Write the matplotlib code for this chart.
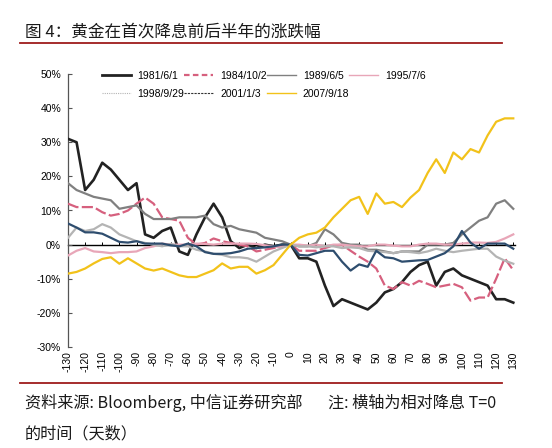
import numpy as np
import matplotlib
matplotlib.use('Agg')
import matplotlib.pyplot as plt
from matplotlib.lines import Line2D

plt.rcParams['font.family'] = ['Liberation Sans', 'Noto Sans CJK SC', 'DejaVu Sans']

# days relative to the first rate cut (T=0)
days = np.arange(-130, 131, 5)

s1981 = [31, 30, 16, 19, 24, 22, 19, 16, 18, 3, 2, 4, 5, -2, -3, 3, 8, 12, 8, 1,
         -1, 0, -1, 0, -0.5, 0, 0, -4, -4, -5, -12, -18, -16, -17, -18, -19, -17, -14,
         -13, -11, -8, -6, -5, -12, -8, -7, -9, -10, -11, -12, -16, -16, -17]
s1984 = [12, 11, 11, 11, 9.5, 8.5, 9, 10, 12, 13.8, 12, 8, 7.5, 7, 2, 0, 0.5, 1.8, 1, 0.5,
         0, -0.5, -2, -1.5, -1, -0.5, 0, -1.8, -1.8, -1.8, -1, -0.3, 0, -1.8, -3.5, -5, -7,
         -12, -13, -11, -12, -10.6, -11.5, -12.5, -12, -11.5, -12.5, -16.4, -15.5, -15.5,
         -10, -4, -7.5]
s1989 = [18, 16, 15, 14, 13.5, 13, 10.5, 11, 11.5, 9, 7.5, 7.5, 7.5, 8, 8, 8, 8.5, 6, 5, 5.5,
         4.5, 4, 3.5, 2, 1.5, 1, 0, -0.5, -0.5, 0.5, 4.5, 3, 0.5, 0, 0, -1.5, -1.5, -2, -2.5,
         -2, -2, -2, 0, 0, 0, 0.5, 3, 5, 7, 8, 12, 13, 10.5]
s1995 = [-3.2, -1.8, -1, -2, -2.2, -2.5, -2.2, -2.2, -2, -1, -0.5, 0.3, 0, 0, 0, 0.3, 0.2, 0,
         0.3, 0.3, 0.3, 0.3, 0.2, -0.2, -0.5, -0.8, 0, 0, -0.3, 0, -0.5, 0, 0, -0.3, -0.5, -0.5,
         0, 0, -0.3, -0.5, -0.5, 0, 0.3, 0.3, 0, 0, 0.3, 0.6, 0.6, 0.5, 0.8, 1.8, 3]
s1998 = [2, 5, 4, 4.5, 6, 5, 3, 2, 1, 0.5, 0, -0.5, 0.2, -0.5, -0.5, -1.5, -2, -2.7, -3, -3.7,
         -3.7, -4, -5, -3.5, -2, -1, 0, -0.5, -0.5, -0.8, -0.5, -0.5, -1, -0.8, -1, -1.8, -2,
         -2.2, -2.5, -2, -2.2, -2.5, -2, -1.2, -1.8, -2.2, -1.8, -1.5, -1.2, -1.2, -3.5, -4.7, -5.6]
s2001 = [6.2, 5, 3.6, 3.6, 3.2, 2, 0.8, 0.6, 1, 0.3, 0.3, 0.3, -0.2, -0.5, 0.3, -0.5, -2.2,
         -2.7, -2.7, -2.5, -2, -1.2, -1, -0.8, -0.5, 0, 0, -3, -3.2, -2.5, -1.8, -1.8, -5, -7.6,
         -5.8, -6.5, -1.8, -3.7, -4, -5, -4.8, -4.6, -4.5, -3.5, -2.5, -0.5, 4, 0.6, -1.2, 0.3,
         0.3, 0.3, -1.2]
s2007 = [-8.5, -8, -7, -5.5, -4.2, -3.7, -5.6, -4, -5.5, -7, -7.6, -7, -8, -9, -9.5, -9.5,
         -8.5, -7.5, -5.5, -7, -6.5, -6.5, -8.5, -7.5, -6, -3, 0, 2, 3, 3.5, 5, 8, 10.5, 13, 14,
         9, 15, 12, 12.5, 11, 13.8, 16, 21, 25, 21, 27, 25, 28, 27, 32, 36, 37, 37]

labels = ['1981/6/1', '1984/10/2', '1989/6/5', '1995/7/6', '1998/9/29', '2001/1/3', '2007/9/18']
series = [s1981, s1984, s1989, s1995, s1998, s2001, s2007]
colors = ['#222222', '#d6607e', '#808080', '#e8a6b8', '#b4b4b4', '#2e4d6e', '#f2c21a']
plot_styles = ['-', (0, (5, 1.5)), '-', '-', '-', '-', '-']
legend_styles = ['-', (0, (2.5, 1.5)), '-', '-', (0, (1, 1)), (0, (2, 1)), '-']
legend_colors = ['#222222', '#d6607e', '#808080', '#e8a6b8', '#b4b4b4', '#333333', '#f2c21a']
legend_widths = [2.0, 1.6, 1.0, 1.0, 0.8, 0.8, 1.0]

fig = plt.figure(figsize=(5.52, 4.48), dpi=100)
ax = fig.add_axes([68 / 552, 1 - 347 / 448, (515 - 68) / 552, (347 - 74) / 448])

order = [6, 3, 4, 1, 2, 5, 0]
for i in order:
    ax.plot(days, series[i], color=colors[i], linestyle=plot_styles[i],
            linewidth=1.9 if i == 0 else 1.6, zorder=3 + i * 0.1)

ax.set_xlim(-130, 131)
ax.set_ylim(-30, 50)
ax.set_yticks(np.arange(-30, 51, 10))
ax.set_yticklabels([f'{v}%' for v in range(-30, 51, 10)], fontsize=7.5)
ax.set_xticks(np.arange(-130, 131, 10))
ax.set_xticklabels([str(v) for v in range(-130, 131, 10)], rotation=90, fontsize=7.5)
ax.tick_params(axis='x', length=0, pad=3)
ax.tick_params(axis='y', direction='in', length=3, width=0.8, color='#555555', pad=5)
for side in ['top', 'right', 'bottom']:
    ax.spines[side].set_visible(False)
ax.spines['left'].set_color('#555555')
ax.spines['left'].set_linewidth(0.9)

# zero axis with ticks, as in the source chart
zero_ax = ax.secondary_xaxis(30 / 80)
zero_ax.set_xticks(np.arange(-130, 131, 10))
zero_ax.tick_params(axis='x', direction='in', length=2.5, width=0.7, labelbottom=False,
                    labeltop=False)
zero_ax.spines['bottom'].set_color('black')
zero_ax.spines['bottom'].set_linewidth(1.0)

# row-wise legend order (matplotlib fills columns first)
leg_order = [0, 4, 1, 5, 2, 6, 3]
handles = [Line2D([], [], color=legend_colors[i], linestyle=legend_styles[i],
                  linewidth=legend_widths[i]) for i in leg_order]
ax.legend(handles, [labels[i] for i in leg_order], ncol=4, loc='upper left',
          bbox_to_anchor=(0.054, 1.045), frameon=False, fontsize=7.5, handlelength=2.8,
          handletextpad=0.65, columnspacing=0.0, labelspacing=0.75)

cjk = ['Noto Sans CJK SC', 'DejaVu Sans']
fig.text(25 / 552, 1 - 32 / 448, '图 4：黄金在首次降息前后半年的涨跌幅', fontsize=12,
         family=cjk, va='center', ha='left', color='#1a1a1a')
fig.add_artist(Line2D([20 / 552, 502 / 552], [1 - 43 / 448, 1 - 43 / 448],
                      color='#9e1b1b', linewidth=1.3))
fig.add_artist(Line2D([20 / 552, 502 / 552], [1 - 383 / 448, 1 - 383 / 448],
                      color='#9e1b1b', linewidth=1.3))
fig.text(25 / 552, 1 - 403 / 448,
         '资料来源: Bloomberg, 中信证券研究部       注: 横轴为相对降息 T=0',
         fontsize=11.6, family=cjk, va='center', ha='left', color='#1a1a1a')
fig.text(25 / 552, 1 - 434 / 448, '的时间（天数）', fontsize=11.6, family=cjk,
         va='center', ha='left', color='#1a1a1a')

fig.savefig('out.png', dpi=100)
